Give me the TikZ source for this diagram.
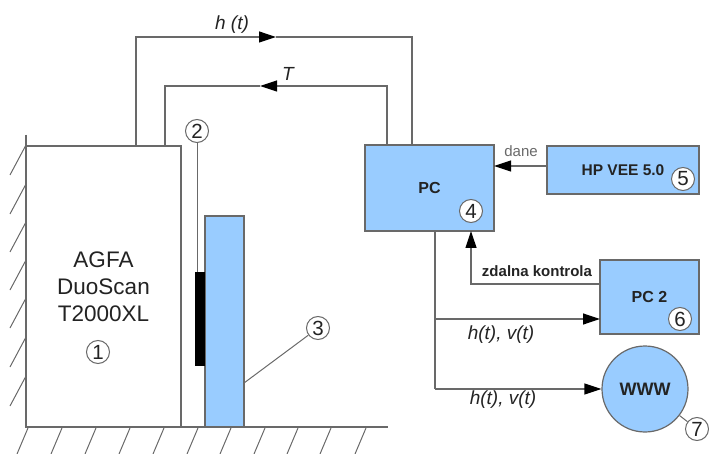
\documentclass[tikz,border=0pt]{standalone}
\usepackage{fontspec}
\setmainfont{Liberation Sans}
\usetikzlibrary{arrows.meta,calc}
\definecolor{boxblue}{RGB}{153,204,255}
\definecolor{linegray}{RGB}{105,105,105}
\definecolor{txtgray}{RGB}{35,35,35}
\begin{document}
\begin{tikzpicture}[x=1pt,y=-1pt,
  line/.style={draw=linegray,line width=1.2pt},
  thinline/.style={draw=linegray,line width=1pt},
  arr/.style={-{Triangle[length=17pt,width=11pt,color=black]}},
  blk/.style={draw=linegray,line width=1.2pt,fill=boxblue,inner sep=0pt,outer sep=0pt,anchor=north west,text=txtgray},
  num/.style={circle,draw=linegray,line width=1pt,fill=white,minimum size=23pt,inner sep=0pt,font=\fontsize{20.5}{20}\selectfont,text=txtgray},
  lbl/.style={inner sep=0pt,text=txtgray,font=\fontsize{19}{19}\selectfont\itshape},
  bx/.style={font=\fontsize{16}{16}\selectfont\bfseries}
]
\useasboundingbox (0,0) rectangle (709,454);
% wall and ground
\draw[line] (26,135) -- (26,427) -- (388,427);
\foreach \yy in {145,184,222,260,298,337,376}
  \draw[thinline] (26,\yy) -- (10,\yy+30);
\foreach \xx in {28,62,96,130,164,198,231,265,298,331,366}
  \draw[thinline] (\xx,428) -- (\xx-11,454);
% scanner
\node[draw=linegray,line width=1.2pt,fill=white,inner sep=0pt,outer sep=0pt,anchor=north west,
      minimum width=155pt,minimum height=281pt,align=center,text=txtgray,
      font=\fontsize{22.5}{27}\selectfont] (scan) at (26,146) {AGFA\\DuoScan\\T2000XL};
\draw[line] (26,135) -- (26,427);
\node[num] (c1) at (98,352) {1};
% sample
\node[blk,minimum width=39pt,minimum height=211pt] (bar) at (205,216) {};
\node[fill=black,inner sep=0pt,outer sep=0pt,anchor=north west,minimum width=10pt,minimum height=94pt] (film) at (195,272) {};
\node[num] (c2) at (197,131) {2};
\draw[thinline] (c2.south) -- (c2.south |- film.north);
\node[num] (c3) at (318,328) {3};
\coordinate (c3foot) at ($(bar.south east)+(0,-44)$);
\draw[thinline] (c3foot) -- (c3);
% PC boxes
\node[blk,bx,minimum width=129pt,minimum height=86pt] (pc) at (365,145) {PC};
\node[num] (c4) at (471,211) {4};
\node[blk,minimum width=152pt,minimum height=48pt,font=\fontsize{15.5}{16}\selectfont\bfseries] (hp) at (547,146) {HP VEE 5.0\hspace{14pt}};
\node[num] (c5) at (683,179) {5};
\node[blk,bx,minimum width=99pt,minimum height=74pt] (pc2) at (600,260) {PC 2\hspace{6pt}};
\node[num] (c6) at (680,319) {6};
\node[circle,draw=linegray,line width=1.2pt,fill=boxblue,minimum size=86pt,inner sep=0pt,text=txtgray,
      font=\fontsize{18}{18}\selectfont\bfseries] (www) at (645,389) {WWW};
\node[num] (c7) at (697,429) {7};
\draw[thinline] (www) -- (c7);
% top connectors
\coordinate (hA) at ($(scan.north west)+(110,0)$);
\coordinate (hT) at (276,37);
\coordinate (hB) at ($(pc.north west)+(47,0)$);
\draw[line,arr] (hA) |- (hT);
\draw[line] (hT) -| (hB);
\coordinate (tA) at ($(pc.north west)+(22,0)$);
\coordinate (tT) at (260,86);
\coordinate (tB) at ($(scan.north west)+(139,0)$);
\draw[line,arr] (tA) |- (tT);
\draw[line] (tT) -| (tB);
\node[lbl] at (232,25) {h (t)};
\node[lbl] at (288,74) {T};
% dane
\coordinate (hpw) at ($(hp.north west)+(0,20)$);
\draw[line,arr] (hpw) -- (pc.east |- hpw);
\node[inner sep=0pt,text=linegray,font=\fontsize{15}{15}\selectfont] at (521,151) {dane};
% zdalna kontrola
\coordinate (zA) at ($(pc2.north west)+(0,24)$);
\coordinate (zB) at ($(pc.south west)+(106,0)$);
\draw[line,arr] (zA) -| (zB);
\node[inner sep=0pt,text=txtgray,font=\fontsize{15}{15}\selectfont\bfseries] at (537,271) {zdalna kontrola};
% outputs
\coordinate (o0) at ($(pc.south west)+(70,0)$);
\coordinate (o1) at ($(pc2.north west)+(0,59)$);
\draw[line] (o0) -- (o0 |- www.west);
\draw[line,arr] (o0 |- o1) -- (o1);
\draw[line,arr] (o0 |- www.west) -- (www.west);
\node[lbl] at (501,335) {h(t), v(t)};
\node[lbl] at (503,400) {h(t), v(t)};
\end{tikzpicture}
\end{document}
